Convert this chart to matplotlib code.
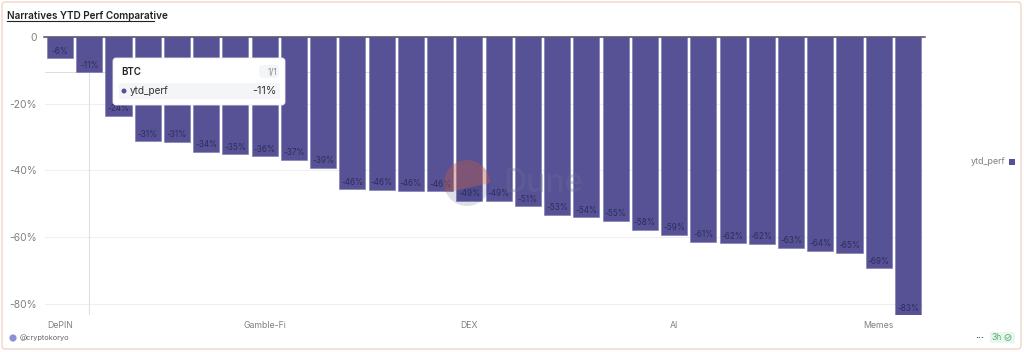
import matplotlib
matplotlib.use("Agg")
import matplotlib.pyplot as plt
from matplotlib.patches import FancyBboxPatch, Rectangle, Circle, Polygon

plt.rcParams["font.family"] = ["Inter", "DejaVu Sans"]

# only every 7th name is readable on the axis, BTC comes from the tooltip
categories = ["DePIN", "BTC", "", "", "", "", "", "Gamble-Fi", "", "", "", "", "", "", "DEX",
              "", "", "", "", "", "", "AI", "", "", "", "", "", "", "Memes", ""]
ytd_perf = [-6.4, -10.6, -23.6, -31.3, -31.4, -34.4, -35.1, -35.8, -36.8, -39.2,
            -45.6, -45.8, -46.1, -46.2, -49.0, -49.1, -50.7, -53.2, -54.0, -55.1,
            -57.8, -59.3, -61.4, -61.8, -61.9, -63.1, -64.1, -64.6, -69.3, -83.3]
y_ticks = [0, -20, -40, -60, -80]
y_tick_labels = ["0", "-20%", "-40%", "-60%", "-80%"]

W, H = 1024, 352
BAR = "#565295"
GREY = "#808080"

fig = plt.figure(figsize=(W / 100, H / 100), dpi=100)
fig.patch.set_facecolor("white")


def px_axes(left, top, right, bottom):
    return fig.add_axes([left / W, 1 - bottom / H, (right - left) / W, (bottom - top) / H])


ax = px_axes(45.4, 37, 922.6, 315)
ax.set_facecolor("none")
ax.set_xlim(-0.5, len(ytd_perf) - 0.5)
ax.set_ylim(min(ytd_perf), 0)

ax.set_yticks(y_ticks, y_tick_labels)
ax.grid(axis="y", color="#efefef", lw=0.8)
ax.set_axisbelow(True)
ax.tick_params(axis="y", length=0, pad=6, labelsize=7.4, labelcolor=GREY)
ax.tick_params(axis="x", length=0, pad=4.5, labelsize=6.3, labelcolor=GREY)
ax.set_xticks(range(0, len(categories), 7), [categories[i] for i in range(0, len(categories), 7)])
for side in ["top", "right", "left", "bottom"]:
    ax.spines[side].set_visible(False)

bars = ax.bar(range(len(ytd_perf)), ytd_perf, width=0.89, color=BAR, edgecolor="#7a76ad", lw=0.4, zorder=2)
ax.plot([-0.55, 29.57], [0, 0], color="#4b4a6e", lw=1.1, clip_on=False, zorder=3)

for i, v in enumerate(ytd_perf):
    ax.annotate(f"{round(v)}%", (i, v), xytext=(0, 5), textcoords="offset points",
                ha="center", va="center", fontsize=5.9, color="#2f2d5c", zorder=4)

# crosshair on the hovered bar, it runs behind the bars
ax.axvline(1, color="#e0dde8", lw=0.8, zorder=1)
ax.axhline(ytd_perf[1], color="#dcdce4", lw=0.7, zorder=1)

# overlay in pixel coordinates for the dashboard furniture
ov = fig.add_axes([0, 0, 1, 1])
ov.set_xlim(0, W)
ov.set_ylim(H, 0)
ov.axis("off")
ov.patch.set_alpha(0)

ov.add_patch(FancyBboxPatch((2, 2), 1019, 347, boxstyle="round,pad=0,rounding_size=3",
                            fc="none", ec="#f3d5c9", lw=1.0))

ov.text(7, 16, "Narratives YTD Perf Comparative", fontsize=7.2, fontweight="semibold",
        color="#222222", va="center", ha="left")
ov.plot([7, 153.5], [21, 21], color="#222222", lw=0.8)

# watermark, a disc split by a tilted line
disc = Circle((467, 183), 23, fc="#2b2a72", alpha=0.15, lw=0)
ov.add_patch(disc)
top_part = Polygon([(440, 194), (494, 182), (494, 155), (440, 155)], fc="#f06a3f", alpha=0.3, lw=0)
ov.add_patch(top_part)
top_part.set_clip_path(Circle((467, 183), 23, transform=ov.transData))
ov.text(503, 184, "Dune", fontsize=23, fontweight="medium", color="#6f6d93", alpha=0.3, va="center", ha="left")

# tooltip
ov.add_patch(FancyBboxPatch((113, 58), 172, 47, boxstyle="round,pad=0,rounding_size=3",
                            fc="white", ec="#ececec", lw=0.6, zorder=5))
ov.add_patch(FancyBboxPatch((119, 83), 161, 16, boxstyle="round,pad=0,rounding_size=2",
                            fc="#f4f5f6", ec="none", zorder=6))
ov.add_patch(FancyBboxPatch((259, 65), 20, 13, boxstyle="round,pad=0,rounding_size=3",
                            fc="#f4f5f6", ec="none", zorder=6))
ov.text(121.5, 72, categories[1], fontsize=7, fontweight="semibold", color="#222222", va="center", zorder=7)
ov.text(277, 72, "1/1", fontsize=6, color="#8a8a8a", va="center", ha="right", zorder=7)
ov.add_patch(Circle((124, 91), 2.5, fc=BAR, ec="none", zorder=7))
ov.text(129.5, 91, "ytd_perf", fontsize=7.2, color="#333333", va="center", zorder=7)
ov.text(277, 91, f"{round(ytd_perf[1])}%", fontsize=7.8, color="#333333", va="center", ha="right", zorder=7)

# legend
ov.text(1005, 162, "ytd_perf", fontsize=6.4, color=GREY, va="center", ha="right")
ov.add_patch(Rectangle((1009, 159), 6, 6, fc=BAR, ec="none"))

# footer
ov.add_patch(Circle((13, 338), 3.6, fc="#8f8fd6", ec="none"))
ov.text(20, 338, "@cryptokoryo", fontsize=5.3, color="#666666", va="center")
ov.text(980, 336, "...", fontsize=6.5, fontweight="bold", color="#444444", va="center", ha="center")
ov.add_patch(FancyBboxPatch((990, 332), 25, 11, boxstyle="round,pad=0,rounding_size=2",
                            fc="#e9f6ec", ec="none"))
ov.text(992, 337.5, "3h", fontsize=6.2, color="#58b274", va="center")
ov.add_patch(Circle((1008, 337.5), 3, fc="none", ec="#58b274", lw=0.6))
ov.plot([1006.5, 1007.6, 1009.6], [337.6, 338.8, 336.4], color="#58b274", lw=0.5)

fig.savefig("out.png", dpi=100)
